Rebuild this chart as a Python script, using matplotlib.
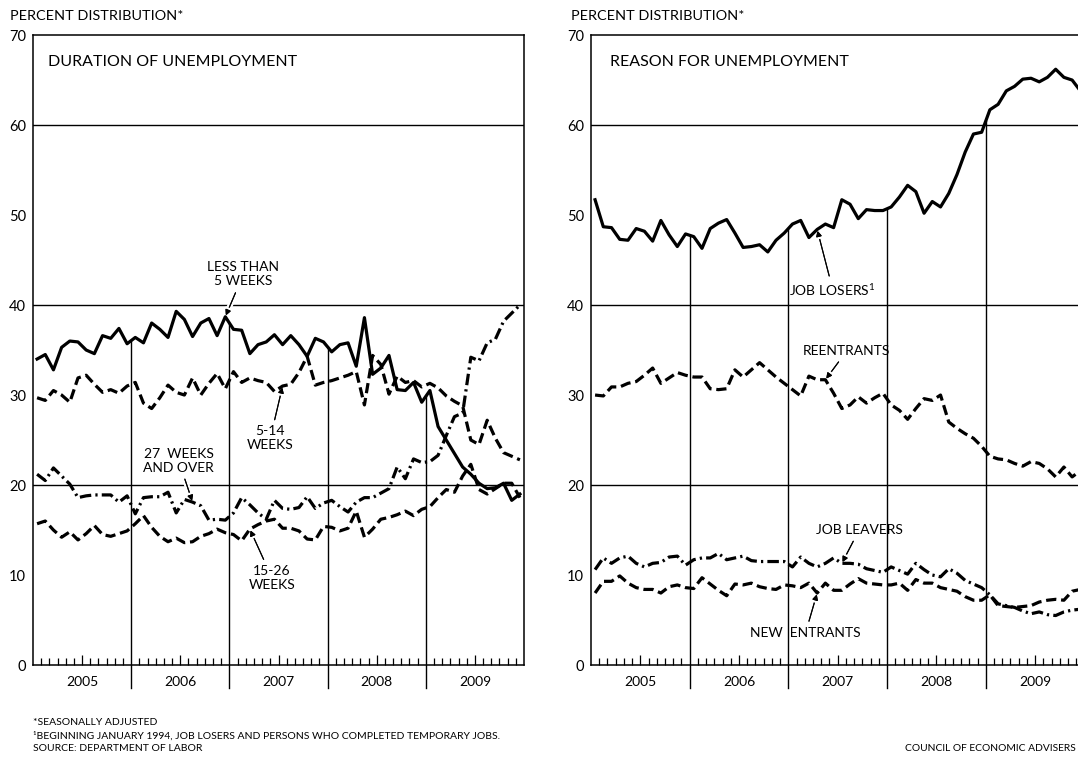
import numpy as np
import matplotlib
matplotlib.use("Agg")
import matplotlib.pyplot as plt
from matplotlib.ticker import FixedLocator, NullFormatter
import matplotlib.patheffects as pe

plt.rcParams['font.family'] = ['Lato', 'DejaVu Sans']

# monthly data, Jan 2005 - Dec 2009 (percent distribution)
years = [2005, 2006, 2007, 2008, 2009]

less_5wk = [34.0, 34.5, 32.8, 35.3, 36.0, 35.9, 35.0, 34.6, 36.6, 36.3, 37.4, 35.7,
            36.4, 35.8, 38.0, 37.3, 36.4, 39.3, 38.4, 36.5, 38.0, 38.5, 36.6, 38.7,
            37.3, 37.2, 34.6, 35.6, 35.9, 36.7, 35.6, 36.6, 35.6, 34.3, 36.3, 35.9,
            34.8, 35.6, 35.8, 33.2, 38.6, 32.3, 33.0, 34.4, 30.6, 30.5, 31.4, 29.2,
            30.5, 26.5, 25.0, 23.5, 22.0, 21.2, 20.2, 19.6, 19.7, 20.2, 18.3, 19.0]
wk_5_14 = [29.7, 29.4, 30.5, 30.0, 29.2, 31.9, 32.2, 31.2, 30.3, 30.6, 30.2, 31.0,
           31.4, 29.1, 28.5, 29.7, 31.1, 30.3, 30.0, 31.9, 30.0, 31.3, 32.4, 30.7,
           32.6, 31.4, 31.9, 31.6, 31.4, 30.4, 31.0, 31.2, 32.5, 34.3, 31.1, 31.4,
           31.6, 31.9, 32.2, 32.6, 28.9, 34.4, 33.4, 30.1, 32.1, 31.4, 31.6, 30.9,
           31.3, 30.8, 29.9, 29.3, 28.8, 25.0, 24.5, 27.2, 25.2, 23.6, 23.2, 22.8]
wk_27_over = [21.2, 20.5, 21.9, 21.0, 20.1, 18.6, 18.8, 18.9, 18.9, 18.9, 18.1, 18.8,
              16.8, 18.6, 18.7, 18.7, 19.2, 16.9, 18.4, 18.1, 17.7, 16.1, 16.2, 16.1,
              16.9, 18.6, 17.8, 16.9, 16.2, 18.3, 17.4, 17.3, 17.5, 18.7, 17.4, 18.0,
              18.3, 17.6, 17.0, 18.1, 18.6, 18.6, 19.1, 19.6, 22.0, 20.7, 22.9, 22.5,
              22.6, 23.3, 25.5, 27.6, 28.0, 34.2, 33.8, 35.8, 36.2, 38.2, 39.1, 40.0]
wk_15_26 = [15.7, 16.0, 15.0, 14.2, 14.8, 13.9, 14.6, 15.5, 14.5, 14.3, 14.6, 14.9,
            15.7, 16.6, 15.3, 14.3, 13.7, 14.1, 13.6, 13.7, 14.3, 14.6, 15.1, 14.7,
            14.5, 13.8, 15.1, 15.6, 16.0, 16.2, 15.2, 15.2, 14.9, 14.0, 13.9, 15.4,
            15.3, 14.9, 15.2, 17.1, 14.2, 15.1, 16.2, 16.4, 16.7, 17.1, 16.6, 17.3,
            17.6, 18.6, 19.5, 19.2, 21.0, 22.3, 19.5, 19.0, 19.6, 20.2, 20.2, 18.6]

job_losers = [51.7, 48.7, 48.6, 47.3, 47.2, 48.5, 48.2, 47.1, 49.4, 47.8, 46.5, 47.9,
              47.6, 46.3, 48.5, 49.1, 49.5, 48.0, 46.4, 46.5, 46.7, 45.9, 47.2, 48.0,
              49.0, 49.4, 47.5, 48.4, 49.0, 48.6, 51.7, 51.2, 49.6, 50.6, 50.5, 50.5,
              50.9, 52.0, 53.3, 52.6, 50.2, 51.5, 50.9, 52.4, 54.5, 57.0, 59.0, 59.2,
              61.7, 62.3, 63.8, 64.3, 65.1, 65.2, 64.8, 65.3, 66.2, 65.3, 65.0, 63.8]
reentrants = [30.0, 29.9, 30.9, 30.9, 31.3, 31.5, 32.2, 33.0, 31.3, 31.9, 32.5, 32.2,
              32.0, 32.0, 30.7, 30.6, 30.7, 32.8, 32.0, 32.8, 33.6, 32.8, 32.0, 31.3,
              30.6, 29.9, 32.1, 31.7, 31.7, 30.2, 28.5, 28.9, 29.8, 29.1, 29.7, 30.2,
              28.9, 28.3, 27.3, 28.5, 29.6, 29.4, 30.0, 27.0, 26.3, 25.7, 25.2, 24.3,
              23.2, 22.9, 22.8, 22.4, 22.1, 22.6, 22.4, 21.8, 20.9, 22.0, 20.9, 21.6]
job_leavers = [10.6, 11.9, 11.3, 11.9, 12.1, 11.3, 10.9, 11.3, 11.4, 12.0, 12.1, 11.1,
               11.7, 11.9, 11.9, 12.4, 11.7, 11.9, 12.1, 11.6, 11.5, 11.5, 11.5, 11.5,
               10.9, 12.0, 11.3, 10.9, 11.3, 11.9, 11.3, 11.3, 11.2, 10.7, 10.5, 10.3,
               10.9, 10.5, 10.1, 11.3, 10.6, 10.0, 9.8, 10.7, 10.2, 9.4, 9.0, 8.6,
               7.8, 6.8, 6.6, 6.4, 6.0, 5.7, 5.9, 5.6, 5.5, 5.9, 6.1, 6.2]
new_entrants = [8.0, 9.3, 9.3, 9.9, 9.1, 8.6, 8.4, 8.4, 8.0, 8.7, 8.9, 8.6,
                8.5, 9.7, 9.0, 8.3, 7.7, 9.0, 8.9, 9.1, 8.7, 8.5, 8.4, 8.9,
                8.8, 8.6, 9.1, 8.0, 9.1, 8.3, 8.3, 9.0, 9.6, 9.1, 9.0, 8.9,
                8.9, 9.1, 8.3, 9.5, 9.1, 9.1, 8.6, 8.4, 8.2, 7.6, 7.2, 7.2,
                7.8, 6.6, 6.5, 6.4, 6.5, 6.6, 7.0, 7.2, 7.3, 7.2, 8.2, 8.4]

x = np.arange(60) + 0.5

SOLID = None
DASH = (3.2, 1.5)
DASHDOT = (3.6, 1.3, 0.7, 1.3)


def draw_line(ax, y, dashes):
    line, = ax.plot(x, y, color='black', lw=2.3, zorder=3,
                    solid_joinstyle='round', dash_capstyle='butt')
    if dashes is not None:
        line.set_dashes(dashes)


def setup_axes(ax, top_series):
    ax.set_xlim(0, 60)
    ax.set_ylim(0, 70)
    for sp in ax.spines.values():
        sp.set_linewidth(1.1)
    # y labels, no major tick marks
    ax.set_yticks(range(0, 71, 10))
    ax.tick_params(axis='y', which='major', length=0, pad=5, labelsize=10.5)
    # little inward ticks at 10, 30, 50 on both sides
    ax.yaxis.set_minor_locator(FixedLocator([10, 30, 50]))
    ax.tick_params(axis='y', which='minor', direction='in', length=7,
                   width=1.0, left=True, right=True)
    # month ticks along the bottom, taller one mid-year
    ax.xaxis.set_major_locator(FixedLocator([6, 18, 30, 42, 54]))
    ax.xaxis.set_minor_locator(FixedLocator([m for m in range(1, 60) if m % 12 != 0]))
    ax.xaxis.set_major_formatter(NullFormatter())
    ax.tick_params(axis='x', which='major', direction='in', length=7.5, width=0.9)
    ax.tick_params(axis='x', which='minor', direction='in', length=4.8, width=0.9)
    # gridlines
    for g in (20, 40, 60):
        ax.axhline(g, color='black', lw=1.0, zorder=1)
    # year separators: from below the axis up to the top series
    for b in (12, 24, 36, 48):
        top = np.interp(b, x, top_series)
        ax.plot([b, b], [-2.55, top], color='black', lw=1.0, zorder=1, clip_on=False)
    for i, yr in enumerate(years):
        ax.text(6 + 12 * i, -1.9, str(yr), ha='center', va='center', fontsize=10)


def label(ax, txt, tip, pos):
    a = ax.annotate(txt, xy=tip, xytext=pos, ha='center', va='center',
                    fontsize=10, linespacing=1.2, zorder=2.5,
                    arrowprops=dict(arrowstyle='-|>', color='black', lw=0.8,
                                    mutation_scale=8, shrinkA=2, shrinkB=1))
    a.arrow_patch.set_path_effects([pe.withStroke(linewidth=4, foreground='white'),
                                    pe.Normal()])


fig = plt.figure(figsize=(10.78, 7.57), dpi=100)
ax1 = fig.add_axes([0.0306, 0.1215, 0.4555, 0.8322])
ax2 = fig.add_axes([0.5482, 0.1215, 0.4578, 0.8322])

# left panel: duration
draw_line(ax1, less_5wk, SOLID)
draw_line(ax1, wk_5_14, DASH)
draw_line(ax1, wk_27_over, DASHDOT)
draw_line(ax1, wk_15_26, DASH)
setup_axes(ax1, less_5wk)
ax1.text(0.0305, 67.05, 'DURATION OF UNEMPLOYMENT', transform=ax1.get_yaxis_transform(),
         ha='left', va='center', fontsize=11.5)
label(ax1, 'LESS THAN\n5 WEEKS', (23.5, less_5wk[23]), (25.7, 43.4))
label(ax1, '5-14\nWEEKS', (30.5, wk_5_14[30]), (29.0, 25.2))
label(ax1, '27  WEEKS\nAND OVER', (19.5, wk_27_over[19]), (17.8, 22.7))
label(ax1, '15-26\nWEEKS', (26.5, wk_15_26[26]), (29.2, 9.7))

# right panel: reason
draw_line(ax2, job_losers, SOLID)
draw_line(ax2, reentrants, DASH)
draw_line(ax2, job_leavers, DASHDOT)
draw_line(ax2, new_entrants, DASH)
setup_axes(ax2, job_losers)
ax2.text(0.0385, 67.05, 'REASON FOR UNEMPLOYMENT', transform=ax2.get_yaxis_transform(),
         ha='left', va='center', fontsize=11.5)
label(ax2, 'JOB LOSERS$^{\\mathregular{1}}$', (27.5, job_losers[27]), (29.4, 41.7))
label(ax2, 'REENTRANTS', (28.5, reentrants[28]), (31.1, 34.9))
label(ax2, 'JOB LEAVERS', (30.5, job_leavers[30]), (32.6, 15.0))
label(ax2, 'NEW  ENTRANTS', (27.5, new_entrants[27]), (26.1, 3.6))

# header and footnotes
fig.text(0.0093, 0.9795, 'PERCENT DISTRIBUTION*', ha='left', va='center', fontsize=10.4)
fig.text(0.5297, 0.9795, 'PERCENT DISTRIBUTION*', ha='left', va='center', fontsize=10.4)
fig.text(0.0306, 0.0453, '*SEASONALLY ADJUSTED', ha='left', va='center', fontsize=7.5)
fig.text(0.0306, 0.0281, '\u00b9BEGINNING JANUARY 1994, JOB LOSERS AND PERSONS WHO COMPLETED TEMPORARY JOBS.',
         ha='left', va='center', fontsize=7.5)
fig.text(0.0306, 0.0106, 'SOURCE: DEPARTMENT OF LABOR', ha='left', va='center', fontsize=7.5)
fig.text(0.998, 0.0106, 'COUNCIL OF ECONOMIC ADVISERS', ha='right', va='center', fontsize=7.4)

fig.savefig('out.png', dpi=100)
